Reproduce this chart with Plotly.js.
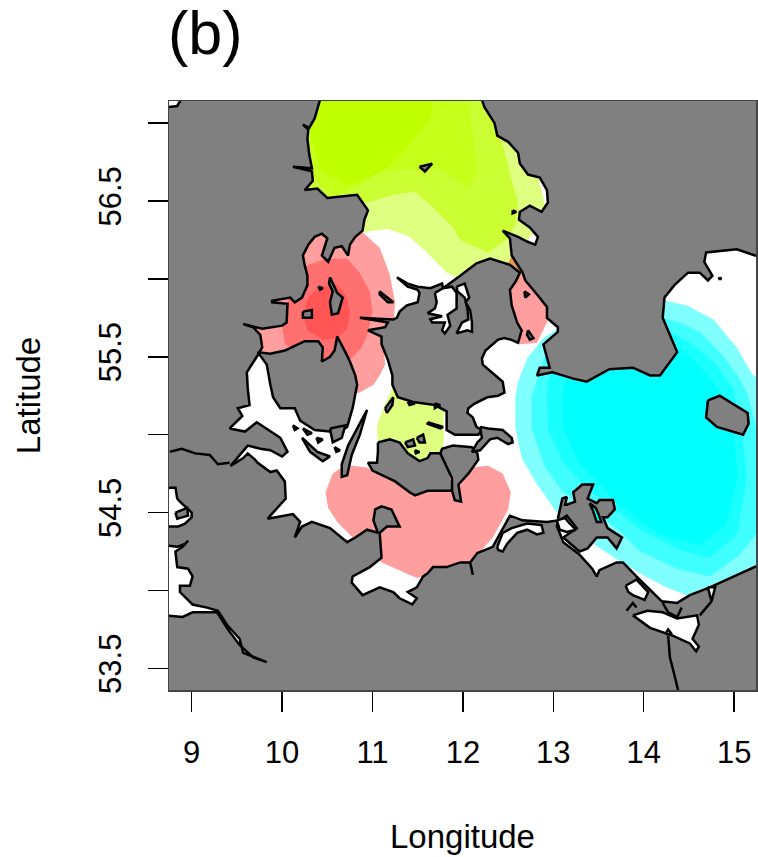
<!DOCTYPE html>
<html><head><meta charset="utf-8"><script src="https://cdn.plot.ly/plotly-3.0.0.min.js"></script>
<style>html,body{margin:0;padding:0;background:#fff}</style></head><body><div id="c" style="width:758px;height:857px"></div>
<script>
const xTicks=[9,10,11,12,13,14,15];
const yTicks=[53.5,54,54.5,55,55.5,56,56.5,57];
const yLabels=['53.5','','54.5','','55.5','','56.5',''];

// probability zones, lon/lat
const yellow0=[[10.20,57.15],[12.83,57.15],[12.83,56.66],[12.91,56.47],[12.91,56.40],[12.54,56.11],[12.41,56.07],[11.93,56.01],[11.82,56.04],[11.60,56.17],[11.41,56.27],[11.17,56.32],[10.89,56.30],[10.20,56.30]];
const yellow1=[[10.95,56.49],[11.23,56.54],[11.47,56.56],[11.67,56.46],[11.89,56.33],[11.97,56.25],[12.28,56.17],[12.50,56.26],[12.58,56.35],[12.61,56.49],[12.54,56.63],[12.43,56.89],[12.30,57.08],[12.19,57.15],[10.20,57.15],[10.20,56.51]];
const yellow2=[[10.20,57.15],[12.06,57.15],[12.16,56.69],[12.05,56.58],[11.97,56.62],[11.71,56.71],[11.16,56.70],[10.75,56.57],[10.61,56.53],[10.39,56.62],[10.20,56.76]];
const yellow3=[[10.20,57.15],[11.67,57.15],[11.64,57.03],[11.38,56.84],[11.16,56.71],[10.75,56.60],[10.42,56.70],[10.31,56.96]];
const greenBelt=[[11.22,55.30],[11.12,55.17],[11.05,55.06],[11.06,54.93],[11.52,54.77],[11.75,54.84],[11.79,54.97],[11.78,55.06],[11.80,55.22],[11.30,55.30]];
const redBelt1=[[10.89,56.30],[11.08,56.20],[11.19,56.03],[11.25,55.85],[11.23,55.70],[11.12,55.58],[11.14,55.45],[11.08,55.38],[11.01,55.32],[10.86,55.27],[10.64,55.25],[9.64,55.54],[9.42,55.74],[10.20,56.25],[10.64,56.35]];
const redBelt2=[[10.28,56.09],[10.50,56.13],[10.72,56.13],[10.86,56.04],[10.97,55.92],[11.00,55.79],[10.94,55.64],[10.88,55.56],[10.75,55.48],[10.42,55.45],[10.03,55.58],[10.00,55.70],[10.09,55.93]];
const redBelt3=[[10.42,55.95],[10.61,55.96],[10.70,55.90],[10.75,55.79],[10.72,55.68],[10.61,55.62],[10.45,55.61],[10.28,55.67],[10.23,55.77],[10.29,55.88]];
const redSound=[[12.41,56.03],[12.68,56.05],[13.01,55.86],[12.93,55.72],[12.82,55.59],[12.63,55.58],[12.41,55.74]];
const orangeSound=[[12.50,56.10],[12.54,56.15],[12.66,56.06],[12.61,55.97]];
const redKiel=[[10.66,54.79],[10.78,54.80],[10.94,54.79],[11.19,54.71],[11.75,54.79],[12.08,54.79],[12.28,54.80],[12.44,54.75],[12.53,54.63],[12.50,54.52],[12.33,54.34],[12.13,54.21],[11.97,54.14],[11.49,54.08],[11.10,54.18],[10.97,54.26],[10.86,54.32],[10.78,54.34],[10.61,54.44],[10.51,54.53],[10.48,54.63],[10.56,54.75]];
const cyan0=[[13.05,55.68],[12.89,55.62],[12.71,55.49],[12.61,55.34],[12.58,55.25],[12.58,55.04],[12.65,54.85],[12.82,54.68],[13.04,54.50],[13.24,54.39],[13.44,54.30],[13.70,54.20],[13.99,54.10],[14.25,54.02],[14.48,53.97],[15.30,54.17],[15.30,55.36],[15.21,55.38],[15.03,55.56],[14.77,55.74],[14.48,55.83],[14.25,55.86],[13.96,55.86],[13.51,55.74]];
const cyan1=[[12.91,55.51],[12.80,55.32],[12.76,55.25],[12.76,55.04],[12.91,54.79],[13.11,54.63],[13.51,54.48],[13.70,54.40],[13.96,54.25],[14.37,54.14],[14.73,54.09],[15.06,54.23],[15.30,54.40],[15.30,54.93],[15.14,55.27],[15.06,55.36],[14.87,55.51],[14.62,55.66],[14.40,55.72],[14.21,55.75],[13.51,55.67]];
const cyan2=[[13.07,55.54],[12.94,55.34],[12.93,55.25],[12.94,55.04],[13.11,54.82],[13.40,54.64],[13.66,54.53],[13.96,54.39],[14.40,54.26],[14.73,54.21],[15.03,54.36],[15.14,54.72],[15.08,55.04],[15.03,55.19],[14.99,55.30],[14.77,55.47],[14.51,55.59],[14.29,55.66],[13.73,55.61]];
const cyan3=[[13.24,55.54],[13.10,55.25],[13.11,55.04],[13.29,54.82],[13.73,54.55],[14.18,54.36],[14.62,54.29],[14.90,54.42],[15.04,54.72],[14.98,55.09],[14.79,55.32],[14.51,55.51],[14.24,55.61]];

// land masses, lon/lat
const jutland=[[10.47,57.2],[10.42,57.15],[10.36,57.03],[10.30,56.97],[10.23,56.99],[10.29,56.96],[10.28,56.90],[10.30,56.80],[10.33,56.71],[10.12,56.72],[10.33,56.69],[10.34,56.63],[10.25,56.57],[10.39,56.58],[10.50,56.52],[10.67,56.53],[10.83,56.54],[10.89,56.49],[10.95,56.44],[10.91,56.38],[10.89,56.31],[10.81,56.27],[10.75,56.22],[10.73,56.15],[10.66,56.21],[10.58,56.20],[10.53,56.13],[10.51,56.11],[10.44,56.15],[10.48,56.23],[10.50,56.26],[10.44,56.29],[10.36,56.27],[10.29,56.22],[10.23,56.15],[10.25,56.09],[10.28,56.02],[10.28,55.96],[10.22,55.88],[10.14,55.85],[10.09,55.88],[9.89,55.86],[9.89,55.85],[10.06,55.84],[10.05,55.72],[10.00,55.70],[9.78,55.68],[9.57,55.71],[9.68,55.69],[9.76,55.64],[9.78,55.56],[9.73,55.51],[9.61,55.40],[9.62,55.30],[9.64,55.19],[9.51,55.17],[9.56,55.12],[9.42,55.04],[9.59,55.02],[9.72,55.08],[9.83,55.04],[9.98,54.98],[10.06,54.89],[10.00,54.86],[9.87,54.90],[9.76,54.91],[9.62,54.93],[9.45,54.82],[9.43,54.80],[9.57,54.85],[9.62,54.88],[9.70,54.84],[9.73,54.82],[9.87,54.76],[9.94,54.77],[10.03,54.70],[10.04,54.59],[9.87,54.48],[9.84,54.46],[10.12,54.49],[10.20,54.44],[10.14,54.34],[10.22,54.41],[10.33,54.44],[10.53,54.40],[10.72,54.31],[10.81,54.34],[10.94,54.39],[11.06,54.37],[11.01,54.45],[11.03,54.52],[11.10,54.54],[11.21,54.52],[11.30,54.41],[11.16,54.41],[11.08,54.37],[11.10,54.21],[10.97,54.15],[10.78,54.09],[10.77,54.05],[10.89,53.97],[11.08,54.02],[11.23,53.99],[11.30,53.95],[11.44,53.91],[11.49,53.95],[11.39,53.99],[11.49,54.02],[11.56,54.09],[11.61,54.11],[11.67,54.15],[11.82,54.15],[11.97,54.18],[12.08,54.18],[12.16,54.24],[12.33,54.28],[12.52,54.48],[12.66,54.45],[12.93,54.44],[13.05,54.45],[13.04,54.41],[13.07,54.37],[13.11,54.31],[13.29,54.23],[13.43,54.14],[13.48,54.09],[13.51,54.13],[13.70,54.18],[13.77,54.18],[13.92,54.09],[14.20,53.93],[14.37,53.92],[14.51,53.97],[14.73,54.02],[15.30,54.17],[15.30,53.3],[8.7,53.3],[8.7,57.2]];
const sweden=[[12.21,57.2],[12.21,57.15],[12.24,57.10],[12.35,57.00],[12.38,56.92],[12.50,56.88],[12.61,56.81],[12.63,56.74],[12.72,56.67],[12.85,56.65],[12.93,56.57],[12.94,56.49],[12.87,56.43],[12.74,56.47],[12.63,56.43],[12.62,56.38],[12.74,56.33],[12.83,56.27],[12.80,56.22],[12.71,56.24],[12.61,56.27],[12.44,56.31],[12.52,56.26],[12.54,56.15],[12.66,56.04],[12.69,55.99],[12.82,55.90],[12.93,55.82],[12.93,55.75],[13.05,55.69],[13.05,55.66],[12.89,55.58],[12.96,55.43],[12.85,55.43],[12.82,55.38],[12.99,55.40],[13.22,55.36],[13.37,55.34],[13.62,55.42],[13.88,55.43],[14.07,55.38],[14.18,55.38],[14.37,55.53],[14.29,55.64],[14.21,55.75],[14.23,55.88],[14.34,55.96],[14.49,56.04],[14.62,56.04],[14.71,55.99],[14.76,56.02],[14.67,56.11],[14.69,56.17],[15.03,56.19],[15.23,56.15],[15.30,56.15],[15.30,57.2]];
const funen=[[9.73,55.53],[9.87,55.52],[10.03,55.54],[10.25,55.60],[10.40,55.60],[10.45,55.56],[10.44,55.47],[10.53,55.50],[10.58,55.54],[10.61,55.63],[10.70,55.53],[10.75,55.47],[10.81,55.38],[10.83,55.32],[10.78,55.17],[10.72,55.05],[10.64,55.02],[10.53,55.02],[10.36,55.03],[10.20,55.09],[10.14,55.17],[9.98,55.17],[9.90,55.24],[9.87,55.32],[9.83,55.45]];
const zealand=[[11.27,56.01],[11.39,55.97],[11.50,55.95],[11.64,55.94],[11.77,55.97],[11.78,55.94],[11.97,56.02],[12.15,56.10],[12.30,56.13],[12.52,56.09],[12.63,56.04],[12.58,55.98],[12.52,55.93],[12.54,55.83],[12.60,55.72],[12.65,55.67],[12.61,55.59],[12.53,55.61],[12.46,55.62],[12.39,55.61],[12.25,55.54],[12.21,55.49],[12.22,55.45],[12.44,55.34],[12.46,55.27],[12.39,55.25],[12.27,55.24],[12.13,55.20],[12.06,55.17],[12.05,55.14],[12.11,55.11],[12.15,55.05],[12.21,55.03],[12.17,55.00],[11.91,55.00],[11.82,55.03],[11.82,55.15],[11.69,55.19],[11.45,55.21],[11.28,55.24],[11.22,55.32],[11.22,55.38],[11.17,55.48],[11.10,55.58],[11.10,55.63],[10.95,55.67],[11.14,55.69],[11.17,55.72],[10.86,55.75],[11.23,55.74],[11.27,55.75],[11.30,55.79],[11.38,55.83],[11.50,55.85],[11.52,55.91],[11.50,55.93],[11.39,55.95]];
const lolland=[[11.06,54.95],[11.19,54.97],[11.30,54.95],[11.39,54.88],[11.52,54.83],[11.61,54.85],[11.64,54.88],[11.75,54.88],[11.77,54.91],[11.89,54.93],[12.10,54.92],[12.16,54.88],[12.17,54.84],[12.06,54.75],[11.95,54.68],[11.98,54.57],[11.91,54.58],[11.88,54.64],[11.84,54.64],[11.61,54.64],[11.47,54.61],[11.41,54.63],[11.25,54.70],[11.00,54.77],[10.95,54.82],[11.05,54.82],[11.06,54.89]];
const moen=[[12.19,55.05],[12.28,55.04],[12.44,55.03],[12.54,54.98],[12.55,54.95],[12.50,54.94],[12.38,54.98],[12.30,54.97],[12.19,54.90],[12.10,54.89],[12.16,54.95],[12.21,54.98]];
const langeland=[[10.94,55.16],[10.86,55.00],[10.77,54.87],[10.72,54.74],[10.66,54.73],[10.66,54.81],[10.73,54.93],[10.83,55.04]];
const aeroe=[[10.22,54.98],[10.39,54.89],[10.53,54.86],[10.45,54.83],[10.31,54.89]];
const samsoe=[[10.53,56.01],[10.61,55.91],[10.67,55.88],[10.62,55.78],[10.55,55.77],[10.53,55.85],[10.56,55.92],[10.52,55.97]];
const ruegen=[[13.05,54.46],[13.10,54.59],[13.15,54.60],[13.13,54.55],[13.15,54.55],[13.24,54.57],[13.22,54.63],[13.32,54.68],[13.44,54.68],[13.38,54.59],[13.48,54.56],[13.51,54.58],[13.66,54.58],[13.68,54.52],[13.60,54.47],[13.55,54.47],[13.60,54.40],[13.76,54.34],[13.70,54.27],[13.60,54.34],[13.48,54.34],[13.38,54.27],[13.29,54.25],[13.11,54.34],[13.26,54.40],[13.15,54.48],[13.07,54.45]];
const bornholm=[[14.71,55.22],[14.84,55.25],[15.15,55.14],[15.16,55.07],[15.10,55.00],[14.81,55.05],[14.69,55.11]];
const smallIslands=[
 [[11.52,56.72],[11.66,56.74],[11.58,56.69]],
 [[11.08,55.92],[11.23,55.85],[11.17,55.85],[11.08,55.90]],
 [[10.23,55.79],[10.33,55.80],[10.33,55.75],[10.23,55.75]],
 [[10.40,55.95],[10.45,55.94],[10.42,55.93]],
 [[12.55,56.44],[12.59,56.43],[12.55,56.42]],
 [[12.68,55.92],[12.73,55.90],[12.69,55.88]],
 [[12.72,55.67],[12.78,55.62],[12.74,55.61],[12.71,55.64]],
 [[14.84,56.01],[14.86,56.00],[14.83,56.00]],
 [[11.61,55.08],[11.78,55.05],[11.75,55.04],[11.61,55.07]],
 [[11.36,54.95],[11.45,54.97],[11.47,54.93],[11.39,54.92]],
 [[11.49,54.98],[11.56,55.00],[11.58,54.95],[11.52,54.95]],
 [[11.47,54.90],[11.52,54.89],[11.48,54.88]],
 [[11.14,55.17],[11.23,55.24],[11.22,55.19],[11.16,55.14]],
 [[11.39,55.21],[11.47,55.20],[11.41,55.19]],
 [[11.69,55.20],[11.75,55.19],[11.69,55.17]],
 [[10.12,55.06],[10.17,55.04],[10.14,55.03]],
 [[10.23,55.04],[10.33,55.01],[10.28,55.00]],
 [[10.38,54.98],[10.45,54.97],[10.40,54.95]],
 [[10.58,54.92],[10.64,54.90],[10.60,54.89]],
 [[10.53,55.04],[10.70,55.06],[10.66,54.98],[10.56,54.95]]
];
// inland waters
const isefjord=[[11.69,55.91],[11.78,55.94],[11.88,55.95],[11.93,55.91],[11.93,55.81],[11.83,55.77],[11.86,55.70],[11.80,55.65],[11.77,55.67],[11.80,55.72],[11.66,55.72],[11.64,55.74],[11.77,55.76],[11.61,55.78],[11.69,55.81],[11.71,55.85]];
const roskilde=[[11.93,55.95],[12.02,55.97],[12.07,55.88],[12.03,55.85],[12.08,55.80],[12.10,55.72],[12.10,55.66],[12.05,55.67],[11.93,55.65],[11.99,55.72],[12.06,55.74],[12.05,55.81],[12.02,55.88],[11.94,55.92]];
const darss=[[12.38,54.28],[12.44,54.37],[12.54,54.40],[12.71,54.43],[12.87,54.42],[12.89,54.37],[12.82,54.36],[12.71,54.39],[12.60,54.37],[12.49,54.30],[12.44,54.25],[12.39,54.26]];
const peene=[[13.80,54.03],[13.92,54.07],[14.05,53.99],[14.01,53.94],[13.88,53.97],[13.83,53.99]];
const szczecin=[[13.88,53.84],[14.04,53.87],[14.21,53.86],[14.37,53.82],[14.59,53.84],[14.61,53.78],[14.54,53.69],[14.61,53.64],[14.58,53.61],[14.51,53.66],[14.32,53.71],[14.21,53.73],[14.07,53.76]];
const swine=[[14.71,54.02],[14.79,54.02],[14.75,53.93]];
const strelasund=[[13.04,54.45],[13.13,54.465],[13.18,54.43],[13.25,54.39],[13.15,54.375],[13.07,54.39]];
const oderMouth=[[14.24,53.72],[14.31,53.72],[14.27,53.75]];
const nwCorner=[[8.7,57.2],[8.93,57.2],[8.84,57.11],[8.7,57.10]];
const eiderMouth=[[8.7,54.66],[8.82,54.66],[8.84,54.59],[8.87,54.57],[9.00,54.50],[9.00,54.47],[8.93,54.43],[8.85,54.41],[8.70,54.41]];
const elbe=[[8.70,54.29],[8.84,54.28],[8.93,54.30],[8.96,54.32],[8.90,54.28],[8.82,54.25],[8.84,54.15],[8.96,54.14],[9.01,54.09],[8.98,54.03],[8.87,54.03],[8.87,53.99],[9.01,53.91],[9.17,53.89],[9.29,53.87],[9.39,53.78],[9.53,53.69],[9.57,53.60],[9.83,53.54],[9.68,53.57],[9.53,53.65],[9.40,53.75],[9.28,53.86],[9.01,53.86],[8.90,53.83],[8.70,53.84]];
const eiderstedt=[[8.82,54.50],[8.95,54.53],[8.96,54.48],[8.84,54.46]];
const ruegenBay=[[13.40,54.56],[13.47,54.53],[13.50,54.49],[13.53,54.44],[13.48,54.44],[13.44,54.51]];
const pinkSpot=[[11.85,54.73],[11.90,54.72],[11.87,54.69]];
// rivers and thin shoreline strokes
const strokes=[
 [[8.76,54.89],[8.89,54.91],[9.04,54.88],[9.20,54.87],[9.29,54.81],[9.42,54.82]],
 [[11.75,54.88],[11.82,54.79],[11.88,54.72],[11.88,54.64]],
 [[14.27,53.71],[14.29,53.57],[14.33,53.48],[14.38,53.36]],
 [[13.81,53.87],[13.88,53.92],[13.92,53.89]],
 [[14.21,53.92],[14.27,53.86],[14.37,53.83],[14.42,53.89]],
 [[14.75,53.93],[14.62,53.84]],
 [[12.08,54.18],[12.11,54.10]]
];

const lonOf=a=>a.map(p=>p[0]), latOf=a=>a.map(p=>p[1]);
const zone=(a,c)=>({type:'scatter',mode:'lines',x:lonOf(a),y:latOf(a),fill:'toself',fillcolor:c,line:{width:0,color:c},hoverinfo:'skip'});
const shape=(a,c)=>({type:'scatter',mode:'lines',x:lonOf(a),y:latOf(a),fill:'toself',fillcolor:c,line:{width:2.5,color:'#000'},hoverinfo:'skip'});
const stroke=a=>({type:'scatter',mode:'lines',x:lonOf(a),y:latOf(a),line:{width:2.5,color:'#000'},hoverinfo:'skip'});
const close=a=>a.concat([a[0]]);
const LAND='#808080';
const traces=[
 zone(yellow0,'#DEFF80'),zone(yellow1,'#CCFF33'),zone(yellow2,'#C6FF1A'),zone(yellow3,'#BFFF00'),
 zone(greenBelt,'#DEFF80'),
 zone(redBelt1,'#FF9E9E'),zone(redBelt2,'#FF7070'),zone(redBelt3,'#FF5555'),
 zone(redSound,'#FF9E9E'),zone(orangeSound,'#E6965A'),zone(redKiel,'#FF9E9E'),
 zone(cyan0,'#80FFFF'),zone(cyan1,'#40FFFF'),zone(cyan2,'#1AFFFF'),zone(cyan3,'#00FFFF')
];
[jutland,sweden,funen,zealand,lolland,moen,langeland,aeroe,samsoe,ruegen,bornholm,...smallIslands].forEach(a=>traces.push(shape(close(a),LAND)));
[isefjord,roskilde,darss,peene,szczecin,swine,strelasund,oderMouth,nwCorner,eiderMouth,elbe].forEach(a=>traces.push(shape(close(a),'#FFFFFF')));
traces.push(shape(close(eiderstedt),LAND));
traces.push(shape(close(ruegenBay),'#00FFFF'));
traces.push(zone(pinkSpot,'#FF9E9E'));
strokes.forEach(a=>traces.push(stroke(a)));

const axisFont={family:'"Liberation Sans",Arial,sans-serif',size:31,color:'#000'};
const layout={
 width:758,height:857,showlegend:false,paper_bgcolor:'#fff',plot_bgcolor:'#fff',
 margin:{l:169,r:2,t:101,b:167},
 font:{family:'"Liberation Sans",Arial,sans-serif',color:'#000'},
 title:{text:'(b)',font:{size:61,family:'"Liberation Sans",Arial,sans-serif',color:'#000'},x:168/758,xanchor:'left',xref:'container',y:0.962,yanchor:'middle',yref:'container'},
 xaxis:{range:[8.749,15.242],tickmode:'array',tickvals:xTicks,ticktext:xTicks.map(String),ticks:'outside',ticklen:20,tickwidth:1.5,tickcolor:'#000',ticklabelstandoff:14,tickfont:axisFont,showgrid:false,zeroline:false,showline:true,mirror:true,linecolor:'#444',linewidth:1.5,layer:'above traces',
  title:{text:'Longitude',font:{family:axisFont.family,size:33,color:'#000'},standoff:56}},
 yaxis:{range:[53.361,57.142],tickmode:'array',tickvals:yTicks,ticktext:yLabels,tickangle:-90,ticks:'outside',ticklen:20,tickwidth:1.5,tickcolor:'#000',ticklabelstandoff:14,tickfont:axisFont,showgrid:false,zeroline:false,showline:true,mirror:true,linecolor:'#444',linewidth:1.5,layer:'above traces',
  title:{text:'Latitude',font:{family:axisFont.family,size:33,color:'#000'},standoff:42}}
};
Plotly.newPlot('c',traces,layout,{staticPlot:true,displayModeBar:false});
</script></body></html>
